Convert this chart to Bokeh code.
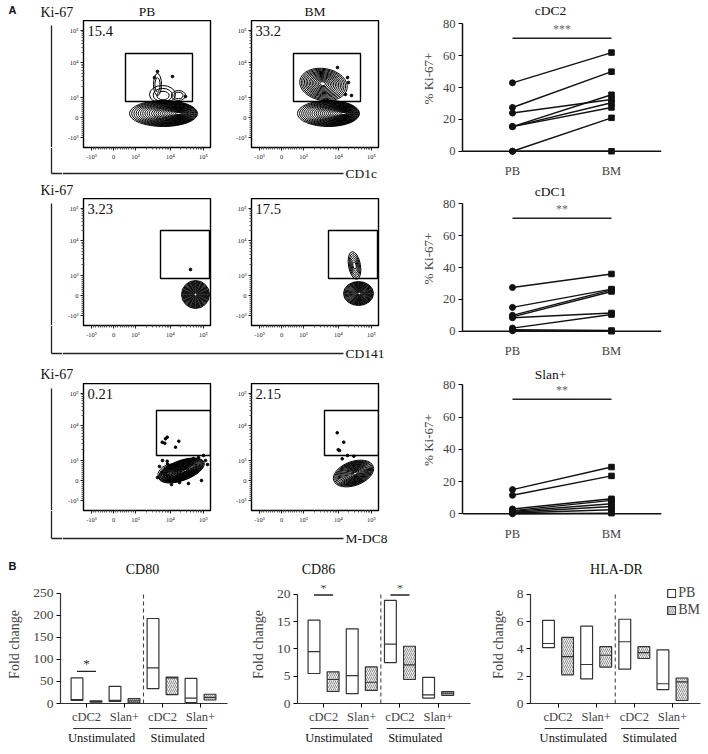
import math
from bokeh.plotting import figure
from bokeh.models import Range1d, FixedTicker, Span, Legend, LegendItem
from bokeh.layouts import row, column
from bokeh.embed import file_html
from bokeh.resources import INLINE
from bokeh.core.properties import value

SERIF = "Liberation Serif"
SANS = "Liberation Sans"

# ---------------- DATA: panel A (right), % Ki-67+ per donor ----------------
pair_labels = ["PB", "BM"]
cdc2_pb = [43, 27.5, 24, 15.5, 15.5, 15.5, 0, 0]
cdc2_bm = [62, 50, 32.5, 35.5, 30.5, 27.5, 21, 0]
cdc1_pb = [27.5, 15, 10, 9, 8.5, 2, 1, 0.3]
cdc1_bm = [36, 26.5, 26, 25, 11.5, 10.5, 0.5, 0]
slan_pb = [15, 11.5, 3, 2, 1.5, 1, 0.5, 0]
slan_bm = [29, 23.5, 9.3, 8.3, 6.2, 4.5, 2.5, 0.4]
dot_titles = ["cDC2", "cDC1", "Slan+"]
dot_sig = ["***", "**", "**"]
dot_sig_level = [71, 71, 71]
ki67_ticks = [0, 20, 40, 60, 80]

# ---------------- DATA: panel A (left), flow plots ----------------
flow_markers = ["CD1c", "CD141", "M-DC8"]
flow_pct_pb = ["15.4", "3.23", "0.21"]
flow_pct_bm = ["33.2", "17.5", "2.15"]
flow_tick_labels = ["-10³", "0", "10³", "10⁴", "10⁵"]
# gates on display scale: (left, right, bottom, top)
flow_gates = [(42, 109, 46, 94), (77, 126, 47, 95), (73, 127, 55, 100)]
# contour populations: (x, y, half-width, half-height, angle deg, levels, core x, core y)
pops_pb = [
    [(80, 34, 34, 13, 0, 22, 96, 34), (79, 53, 13, 9, 0, 3, 80, 51),
     (74, 63, 4, 11, 0, 2, 74, 62), (95, 52, 7, 5, 0, 2, 95, 52)],
    [(112, 31, 14, 14, 0, 18, 112, 31)],
    [(98, 40, 24, 10, 20, 24, 102, 40), (86, 38, 12, 8, 20, 6, 86, 37)],
]
pops_bm = [
    [(77, 34, 31, 13, 0, 22, 93, 34), (72, 63, 24, 16, -10, 14, 71, 64)],
    [(107, 32, 15, 12, 0, 18, 108, 32), (103, 60, 6, 14, 10, 6, 103, 60)],
    [(102, 37, 21, 12, 20, 18, 104, 37)],
]
dots_pb_x = [[74, 89, 71, 102], [107],
             [78.7, 82, 83.7, 81.3, 95.3, 92, 83.7, 84, 76, 120, 122, 118, 105, 74,
              110, 79, 115, 124, 96, 88]]
dots_pb_y = [[76, 71, 70, 51], [56],
             [68.3, 71.7, 73.3, 67.3, 69.3, 63.3, 49.3, 46.5, 44, 55, 50, 30, 27, 33,
              52, 50, 53, 46, 28, 26]]
dots_bm_x = [[86, 96, 97, 94, 100], [], [85.7, 92.3, 86.7, 88, 90.7, 102.3, 96]]
dots_bm_y = [[80, 70, 65, 53, 52], [], [77.7, 68.3, 60.7, 60, 51.7, 54.3, 55]]

# ---------------- DATA: panel B, fold change (min / median / max) ----------------
bar_condition = ["Unstimulated"] * 4 + ["Stimulated"] * 4
bar_cell = ["cDC2", "cDC2", "Slan+", "Slan+"] * 2
bar_tissue = ["PB", "BM"] * 4
cd80_low = [7, 3, 5, 1.5, 34, 20, 2, 8]
cd80_mid = [9, 4.5, 7, 6, 81, 58, 12, 14]
cd80_high = [58, 6, 39, 11, 193, 60, 57, 21]
cd86_low = [5.5, 2.2, 1.8, 2.4, 7.5, 4.4, 1.0, 1.5]
cd86_mid = [9.5, 4.4, 5.1, 3.9, 10.9, 7.1, 1.6, 1.9]
cd86_high = [15.3, 5.8, 13.7, 6.7, 18.9, 10.5, 4.8, 2.2]
hla_low = [4.1, 2.1, 1.8, 2.67, 2.52, 3.3, 1.02, 0.22]
hla_mid = [4.4, 3.44, 2.86, 3.54, 4.53, 3.73, 1.45, 1.58]
hla_high = [6.1, 4.85, 5.67, 4.17, 6.18, 4.17, 3.93, 1.87]
cd80_ticks = [0, 50, 100, 150, 200, 250]
cd86_ticks = [0, 5, 10, 15, 20]
hla_ticks = [0, 2, 4, 6, 8]
cd80_sig = [(0, 1, 73)]
cd86_sig = [(0, 1, 19.9), (4, 5, 19.9)]
hla_sig = []
b_names = ["CD80", "CD86", "HLA-DR"]


# ---------------- helpers ----------------
def make_fig(fig_box, frame_box, xr, yr, axes=True):
    fx, fy, fw, fh = fig_box
    ax, ay, aw, ah = frame_box
    kw = {}
    if not axes:
        kw = dict(x_axis_location=None, y_axis_location=None)
    p = figure(width=fw, height=fh, x_range=Range1d(*xr), y_range=Range1d(*yr),
               min_border_left=ax - fx, min_border_right=fx + fw - ax - aw,
               min_border_top=ay - fy, min_border_bottom=fy + fh - ay - ah,
               output_backend="svg", toolbar_location=None, **kw)
    p.grid.visible = False
    p.outline_line_color = None
    p.background_fill_color = "white"
    p.border_fill_color = "white"

    def dx(ix):
        return xr[0] + (ix - ax) * (xr[1] - xr[0]) / aw

    def dy(iy):
        return yr[1] - (iy - ay) * (yr[1] - yr[0]) / ah
    return p, dx, dy


def strip(x0, y0, w, h):
    """plain drawing area in page pixels (y grows downward)"""
    p, _, _ = make_fig((x0, y0, w, h), (x0, y0, w, h), (x0, x0 + w), (y0 + h, y0), axes=False)
    return p


def txt(p, x, y, t, size="14px", font=SERIF, align="left", baseline="middle",
        style="normal", color="#111"):
    p.text(x=[x], y=[y], text=[t], text_font=value(font), text_font_size=size,
           text_align=align, text_baseline=baseline, text_font_style=style,
           text_color=color)


def seg(p, x0, y0, x1, y1, w=1.3, color="#222"):
    p.segment(x0=[x0], y0=[y0], x1=[x1], y1=[y1], line_width=w, line_color=color)


FX_MAJOR = [8, 30, 52, 87, 120]
FY_MAJOR = [10, 30, 50, 85, 117]


def flow_minor(major):
    m = []
    lin = (major[2] - major[1]) / 1000.0
    for v in range(-900, 1000, 100):
        if v != 0:
            m.append(major[1] + v * lin)
    for a, b in ((major[2], major[3]), (major[3], major[4])):
        for k in range(2, 10):
            m.append(a + (b - a) * math.log10(k))
    return m


def style_flow(p):
    for axis, ticks in ((p.xaxis[0], FX_MAJOR), (p.yaxis[0], FY_MAJOR)):
        axis.ticker = FixedTicker(ticks=ticks, minor_ticks=flow_minor(ticks))
        axis.major_label_overrides = {t: l for t, l in zip(ticks, flow_tick_labels)}
        axis.major_label_text_font = SERIF
        axis.major_label_text_font_size = "6.5px"
        axis.major_label_text_color = "#222"
        axis.major_label_standoff = 2
        axis.major_tick_out = 3
        axis.major_tick_in = 0
        axis.minor_tick_out = 2
        axis.minor_tick_in = 0
        axis.axis_line_color = None
        axis.major_tick_line_color = "#222"
        axis.minor_tick_line_color = "#555"
    p.outline_line_color = "black"
    p.outline_line_width = 1.4


def draw_pops(p, pops):
    for (cx, cy, rx, ry, ang, n, ix, iy) in pops:
        xs, ys, ws, hs = [], [], [], []
        for k in range(n):
            s = 1 - k / (n + 0.8)
            t = 1 - s
            xs.append(cx + (ix - cx) * t)
            ys.append(cy + (iy - cy) * t)
            ws.append(2 * rx * s)
            hs.append(2 * ry * s)
        p.ellipse(x=xs, y=ys, width=ws, height=hs, angle=math.radians(ang),
                  fill_color=None, line_color="black", line_width=1.0)


# ---------------- panel A: flow plots ----------------
row_y = [0, 180, 360]
row_bottom = [180, 360, 545]
frame_top = [20, 198, 383]
ki_mid = [12, 189.5, 374]
line_y = [173, 353, 538]
FRAME = 127
MID_H = 143
left_rows = []
for r in range(3):
    top = strip(0, row_y[r], 388, frame_top[r] - row_y[r])
    if r == 0:
        txt(top, 8, 9, "A", size="11px", font=SANS, style="bold")
        txt(top, 146.5, 11, pair_labels[0], size="13.5px", align="center")
        txt(top, 314.5, 11, pair_labels[1], size="13.5px", align="center")
    txt(top, 40, ki_mid[r], "Ki-67", size="14px")

    fb = frame_top[r] + FRAME
    ls = strip(0, frame_top[r], 62, FRAME)
    seg(ls, 51, frame_top[r] + 5, 51, fb)
    ls2 = strip(0, fb, 62, row_bottom[r] - fb)
    seg(ls2, 51, fb, 51, line_y[r])
    seg(ls2, 51, line_y[r], 62, line_y[r])

    figs = []
    for side in range(2):
        if side == 0:
            fig_box = (62, frame_top[r], 158, MID_H)
            frame_box = (83, frame_top[r], FRAME, FRAME)
        else:
            fig_box = (220, frame_top[r], 168, MID_H)
            frame_box = (251, frame_top[r], FRAME, FRAME)
        p, _, _ = make_fig(fig_box, frame_box, (0, 127), (0, 127))
        style_flow(p)
        g = flow_gates[r]
        draw_pops(p, (pops_pb if side == 0 else pops_bm)[r])
        px = (dots_pb_x if side == 0 else dots_bm_x)[r]
        py = (dots_pb_y if side == 0 else dots_bm_y)[r]
        if px:
            p.scatter(x=px, y=py, size=2.6, marker="circle", color="black")
        p.quad(left=[g[0]], right=[g[1]], bottom=[g[2]], top=[g[3]],
               fill_color=None, line_color="black", line_width=1.4)
        pct = (flow_pct_pb if side == 0 else flow_pct_bm)[r]
        txt(p, 4, 122, pct, size="14.5px", baseline="top")
        figs.append(p)

    by = frame_top[r] + MID_H
    bs = strip(62, by, 326, row_bottom[r] - by)
    seg(bs, 62, line_y[r], 343, line_y[r])
    txt(bs, 345, line_y[r], flow_markers[r], size="13.5px")

    left_rows.append(column(top, row(column(ls, ls2), column(row(*figs), bs))))

# ---------------- panel A: paired Ki-67 plots ----------------
dot_pb = [cdc2_pb, cdc1_pb, slan_pb]
dot_bm = [cdc2_bm, cdc1_bm, slan_bm]
dot_base = [152.7, 332.7, 513.3]
dot_frame_bottom = [158, 338, 519]
dot_title_y = [10, 191, 374]
ppu = 1.6125
dot_figs = []
for r in range(3):
    top_img = row_y[r]
    fh = dot_frame_bottom[r] - top_img
    ytop = (dot_base[r] - top_img) / ppu
    ybot = ytop - fh / ppu
    p, dx, dy = make_fig((388, row_y[r], 320, row_bottom[r] - row_y[r]),
                         (462, top_img, 199, fh), (-0.505, 1.505), (ybot, ytop))
    x_pb = pair_labels.index("PB")
    x_bm = pair_labels.index("BM")
    n = len(dot_pb[r])
    p.segment(x0=[x_pb] * n, y0=dot_pb[r], x1=[x_bm] * n, y1=dot_bm[r],
              line_color="#111", line_width=1.4)
    p.scatter(x=[x_pb] * n, y=dot_pb[r], marker="circle", size=6, color="#111")
    p.scatter(x=[x_bm] * n, y=dot_bm[r], marker="square", size=5.5, color="#111")
    p.add_layout(Span(location=0, dimension="width", line_color="#111", line_width=1.5))
    p.segment(x0=[x_pb], y0=[dot_sig_level[r]], x1=[x_bm], y1=[dot_sig_level[r]],
              line_color="#222", line_width=1.4)
    txt(p, (x_pb + x_bm) / 2, dot_sig_level[r] + 1.5, dot_sig[r], size="12px",
        align="center", baseline="bottom", color="#666")
    txt(p, dx(550), dy(dot_title_y[r]), dot_titles[r], size="13.5px", align="center")
    ya = p.yaxis[0]
    ya.ticker = FixedTicker(ticks=ki67_ticks)
    ya.bounds = (ki67_ticks[0], ki67_ticks[-1])
    ya.axis_label = "% Ki-67+"
    ya.axis_label_text_font = SERIF
    ya.axis_label_text_font_style = "normal"
    ya.axis_label_text_font_size = "13px"
    ya.axis_label_standoff = 4
    ya.major_label_text_font = SERIF
    ya.major_label_text_font_size = "12.5px"
    ya.major_label_standoff = 3
    ya.major_tick_out = 4
    ya.major_tick_in = 0
    ya.minor_tick_line_color = None
    ya.axis_line_width = 1.5
    ya.axis_line_color = "#111"
    xa = p.xaxis[0]
    xa.ticker = FixedTicker(ticks=[x_pb, x_bm])
    xa.major_label_overrides = {x_pb: "PB", x_bm: "BM"}
    xa.major_label_text_font = SERIF
    xa.major_label_text_font_size = "12.5px"
    xa.major_label_standoff = 1
    xa.axis_line_color = None
    xa.major_tick_line_color = None
    xa.minor_tick_line_color = None
    dot_figs.append(p)

# ---------------- panel B ----------------
b_values = [(cd80_low, cd80_mid, cd80_high, cd80_ticks, cd80_sig),
            (cd86_low, cd86_mid, cd86_high, cd86_ticks, cd86_sig),
            (hla_low, hla_mid, hla_high, hla_ticks, hla_sig)]
B_TOP = 580
B_FT = 585
b_geom = [((0, B_TOP, 240, 146), (60, B_FT, 167, 119), (-0.868, 7.921), (0, 268.0)),
          ((240, B_TOP, 232, 146), (297, B_FT, 173, 119), (-0.864, 8.194), (0, 21.64)),
          ((472, B_TOP, 236, 146), (530, B_FT, 170, 119), (-0.944, 7.97), (0, 8.655))]
b_title_x = [142, 318, 616]
BW = 0.62

b_top = strip(0, 545, 708, B_TOP - 545)
txt(b_top, 8, 565, "B", size="11px", font=SANS, style="bold")
for name, tx in zip(b_names, b_title_x):
    txt(b_top, tx, 569, name, size="14px", align="center")

b_figs = []
b_bots = []
for bi in range(3):
    lo, mid, hi, yt, sig = b_values[bi]
    fbox, frbox, xr, yr = b_geom[bi]
    p, dx, dy = make_fig(fbox, frbox, xr, yr)
    xs = list(range(len(lo)))
    pb_i = [i for i in xs if bar_tissue[i] == "PB"]
    bm_i = [i for i in xs if bar_tissue[i] == "BM"]
    r_pb = p.vbar(x=pb_i, width=BW, bottom=[lo[i] for i in pb_i], top=[hi[i] for i in pb_i],
                  fill_color="white", line_color="#333", line_width=1.2)
    r_bm = p.vbar(x=bm_i, width=BW, bottom=[lo[i] for i in bm_i], top=[hi[i] for i in bm_i],
                  fill_color="#f0f0f0", hatch_pattern="/", hatch_color="#777",
                  hatch_scale=4, hatch_weight=0.8, line_color="#333", line_width=1.2)
    p.segment(x0=[i - BW / 2 for i in xs], x1=[i + BW / 2 for i in xs], y0=mid, y1=mid,
              line_color="#333", line_width=1.2)
    split = (max(i for i in xs if bar_condition[i] == "Unstimulated") +
             min(i for i in xs if bar_condition[i] == "Stimulated")) / 2
    p.segment(x0=[split], x1=[split], y0=[yt[0]], y1=[yt[-1]], line_color="#444",
              line_width=1.1, line_dash="4 3")
    for (a, b, lev) in sig:
        seg(p, a, lev, b, lev, w=1.3)
        txt(p, (a + b) / 2, lev, "*", size="13px", align="center", baseline="bottom",
            color="#333")
    ya = p.yaxis[0]
    ya.ticker = FixedTicker(ticks=yt)
    ya.bounds = (yt[0], yt[-1])
    ya.axis_label = "Fold change"
    ya.axis_label_text_font = SERIF
    ya.axis_label_text_font_style = "normal"
    ya.axis_label_text_font_size = "14px"
    ya.axis_label_standoff = 8
    ya.major_label_text_font = SERIF
    ya.major_label_text_font_size = "13.5px"
    ya.major_label_standoff = 3
    ya.major_tick_out = 4
    ya.major_tick_in = 0
    ya.minor_tick_line_color = None
    ya.axis_line_color = "#333"
    ya.axis_line_width = 1.2
    cell_pos = {}
    for i in xs:
        cell_pos.setdefault((bar_condition[i], bar_cell[i]), []).append(i)
    ticks = sorted(sum(v) / len(v) for v in cell_pos.values())
    tick_lab = {sum(v) / len(v): cell for (cond, cell), v in cell_pos.items()}
    xa = p.xaxis[0]
    xa.ticker = FixedTicker(ticks=ticks)
    xa.major_label_overrides = tick_lab
    xa.major_label_text_font = SERIF
    xa.major_label_text_font_size = "12.5px"
    xa.major_label_standoff = 2
    xa.major_tick_out = 4
    xa.major_tick_in = 0
    xa.minor_tick_line_color = None
    xa.axis_line_color = "#333"
    xa.axis_line_width = 1.2
    if bi == 2:
        leg = Legend(items=[LegendItem(label="PB", renderers=[r_pb]),
                            LegendItem(label="BM", renderers=[r_bm])],
                     location="top_right", glyph_width=10, glyph_height=10,
                     label_text_font=SERIF, label_text_font_size="14px",
                     label_height=11, spacing=1, padding=2, margin=0,
                     label_standoff=2, border_line_color=None,
                     background_fill_alpha=0)
        p.add_layout(leg)
    b_figs.append(p)

    # condition groups beneath the axis (same x scale as the chart)
    fx, fy, fw, fh = fbox
    ax, ay, aw, ah = frbox
    bot, _, _ = make_fig((fx, 726, fw, 28), (ax, 726, aw, 28), xr, (754, 726), axes=False)
    for cond in ["Unstimulated", "Stimulated"]:
        idx = [i for i in xs if bar_condition[i] == cond]
        seg(bot, min(idx) - 0.2, 728, max(idx) - 0.15, 728, w=1.0, color="#333")
        txt(bot, (min(idx) + max(idx)) / 2 - 0.2, 737.5, cond, size="12.5px",
            align="center")
    b_bots.append(bot)

left_col = column(*left_rows)
right_col = column(*dot_figs)
page = column(row(left_col, right_col), b_top, row(*b_figs), row(*b_bots))

open("out.html", "w").write(file_html(page, INLINE))
